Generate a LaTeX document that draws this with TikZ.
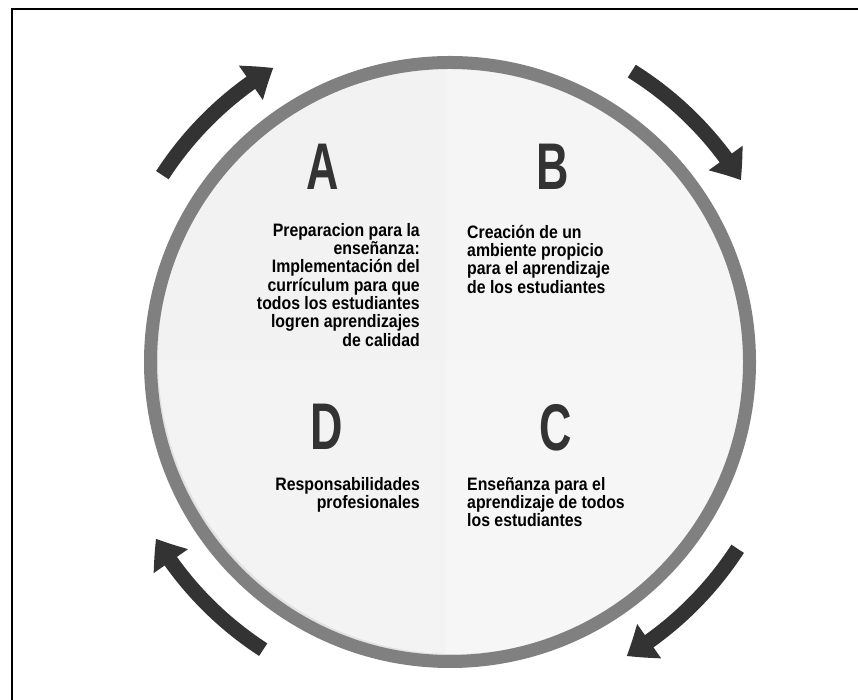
\documentclass[tikz,border=0pt]{standalone}
\usepackage{fontspec}
\setmainfont{Liberation Sans}
\newfontfamily\bodyfont{Liberation Sans}[FakeStretch=0.88]
\newfontfamily\letterfont{Liberation Sans}[FakeStretch=0.68]
\usetikzlibrary{arrows.meta,bending}
\definecolor{ringgray}{HTML}{808080}
\definecolor{arrowdark}{HTML}{333333}
\definecolor{shadowgray}{HTML}{E2E2E2}
\definecolor{qA}{HTML}{F2F2F2}
\definecolor{qB}{HTML}{F5F5F5}
\definecolor{qC}{HTML}{F6F6F6}
\definecolor{qD}{HTML}{F3F3F3}
\tikzset{
  cyclearrow/.style={arrowdark, line width=15pt, -{Triangle[width=40pt,length=27pt,bend]}},
  bigletter/.style={anchor=base, inner sep=0pt, text=arrowdark, font=\letterfont\bfseries\fontsize{66}{66}\selectfont},
  bodytext/.style={inner sep=0pt, text=black, font=\bodyfont\bfseries\fontsize{18}{18.3}\selectfont},
}
\begin{document}
\begin{tikzpicture}[x=1pt,y=1pt]
\useasboundingbox (0,0) rectangle (858,700);
\fill[white] (0,0) rectangle (858,700);
\draw[line width=2.5pt] (12,0) -- (12,691) -- (858,691);
\coordinate (c) at (450,338);
\coordinate (q) at (446,340);
% disk with shadow
\fill[shadowgray] (c) circle (300);
\begin{scope}
  \clip ([shift={(4,4)}]c) circle (296);
  \fill[qA] (q) rectangle ++(-330,330);
  \fill[qB] (q) rectangle ++(330,330);
  \fill[qC] (q) rectangle ++(330,-330);
  \fill[qD] (q) rectangle ++(-330,-330);
\end{scope}
\draw[ringgray, line width=13pt] (c) circle (299.5);
% arrows
\draw[cyclearrow] ([shift={(147:343)}]c) arc[start angle=147, end angle=121, radius=343];
\draw[cyclearrow] ([shift={(58:343)}]c) arc[start angle=58, end angle=32, radius=343];
\draw[cyclearrow] ([shift={(-33:343)}]c) arc[start angle=-33, end angle=-59, radius=343];
\draw[cyclearrow] ([shift={(237:343)}]c) arc[start angle=237, end angle=211, radius=343];
% letters
\node[bigletter] (A) at (323,510) {A};
\node[bigletter] (B) at (553,510) {B};
\node[bigletter] (C) at (556,249) {C};
\node[bigletter] (D) at (327,250) {D};
% texts
\node[bodytext, anchor=north east, align=right] (tA) at (420,477)
  {Preparacion para la\\enseñanza:\\Implementación del\\currículum para que\\todos los estudiantes\\logren aprendizajes\\de calidad};
\node[bodytext, anchor=north west, align=left] (tB) at (467,475)
  {Creación de un\\ambiente propicio\\para el aprendizaje\\de los estudiantes};
\node[bodytext, anchor=north west, align=left] (tC) at (467,223)
  {Enseñanza para el\\aprendizaje de todos\\los estudiantes};
\node[bodytext, anchor=north east, align=right] (tD) at (420,223)
  {Responsabilidades\\profesionales};
\end{tikzpicture}
\end{document}
